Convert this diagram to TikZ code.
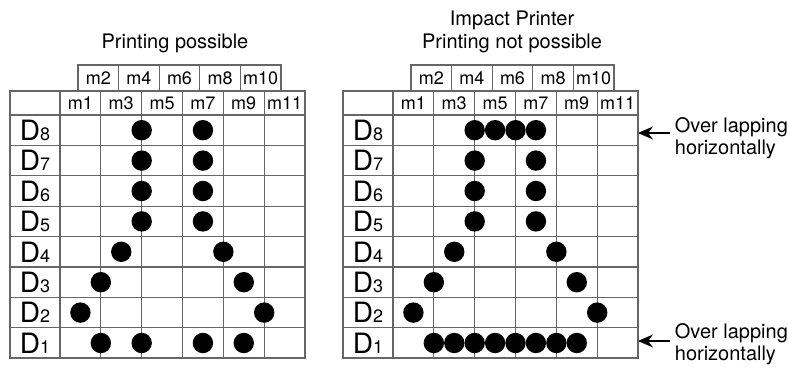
\documentclass[tikz,border=0pt]{standalone}
\usepackage{fontspec}
\setmainfont{TeX Gyre Heros}
\usetikzlibrary{arrows.meta}

\tikzset{
  gridline/.style={draw=black!60, line width=0.6pt},
  dot/.style={circle, fill=black, inner sep=0pt, minimum size=10.2pt},
  mlabel/.style={font=\fontsize{9}{9}\selectfont, inner sep=0pt},
  title/.style={font=\fontsize{10}{11.5}\selectfont, align=center},
  note/.style={font=\fontsize{10}{11.2}\selectfont, align=left, anchor=west,
    inner sep=0pt, inner xsep=2.5pt},
  pointer/.style={-{Stealth[length=7.5pt,width=6.5pt]}, line width=0.9pt},
}
\newcommand{\dlabel}[1]{{\fontsize{14}{14}\selectfont D}{\fontsize{9}{9}\selectfont #1}}

\begin{document}
\begin{tikzpicture}[x=0.5pt, y=-0.5pt]
\useasboundingbox (0,0) rectangle (788,369);
\node[title] (t1) at (175,43) {Printing possible};
\node[title] (t2) at (512,31.5) {Impact Printer\\Printing not possible};
% the two tables
\foreach \ox/\p in {0/L,333/R}{
  \begin{scope}[shift={(\ox,0)}]
    \draw[gridline] (10,91) rectangle (305,358);
    \foreach \i in {0,...,7} \draw[gridline] (10,{115+\i*30.4}) -- (305,{115+\i*30.4});
    \foreach \k in {0,...,5} \draw[gridline] ({60+\k*40.83},91) -- ({60+\k*40.83},358);
    \draw[gridline] (78,65) rectangle (281,91);
    \foreach \k in {1,...,4} \draw[gridline] ({78+\k*40.6},65) -- ({78+\k*40.6},91);
    \foreach \k in {0,...,5}{
      \pgfmathtruncatemacro\m{2*\k+1}
      \node[mlabel] (\p m\m) at ({80.4+\k*40.83},103) {m\m};
    }
    \foreach \k in {0,...,4}{
      \pgfmathtruncatemacro\m{2*\k+2}
      \node[mlabel] (\p m\m) at ({98.3+\k*40.6},78) {m\m};
    }
    \foreach \r in {1,...,8} \node (\p D\r) at (35,{130.2+(8-\r)*30.4}) {\dlabel{\r}};
  \end{scope}
}
% dots, printing possible
\foreach \r/\ms in {8/{4,7},7/{4,7},6/{4,7},5/{4,7},4/{3,8},3/{2,9},2/{1,10},1/{2,4,7,9}}
  \foreach \m in \ms \node[dot] (L\r-\m) at ({60+\m*20.42},{130.2+(8-\r)*30.4}) {};
% dots, printing not possible
\foreach \r/\ms in {8/{4,5,6,7},7/{4,7},6/{4,7},5/{4,7},4/{3,8},3/{2,9},2/{1,10},1/{2,3,4,5,6,7,8,9}}
  \foreach \m in \ms \node[dot] (R\r-\m) at ({393+\m*20.42},{130.2+(8-\r)*30.4}) {};
% notes
\node[note] (n1) at (669.5,138) {Over lapping\\horizontally};
\node[note] (n2) at (669.5,344) {Over lapping\\horizontally};
\coordinate (e1) at (638,133);
\coordinate (e2) at (638,341);
\draw[pointer] (e1 -| n1.west) -- (e1);
\draw[pointer] (e2 -| n2.west) -- (e2);
\end{tikzpicture}
\end{document}
